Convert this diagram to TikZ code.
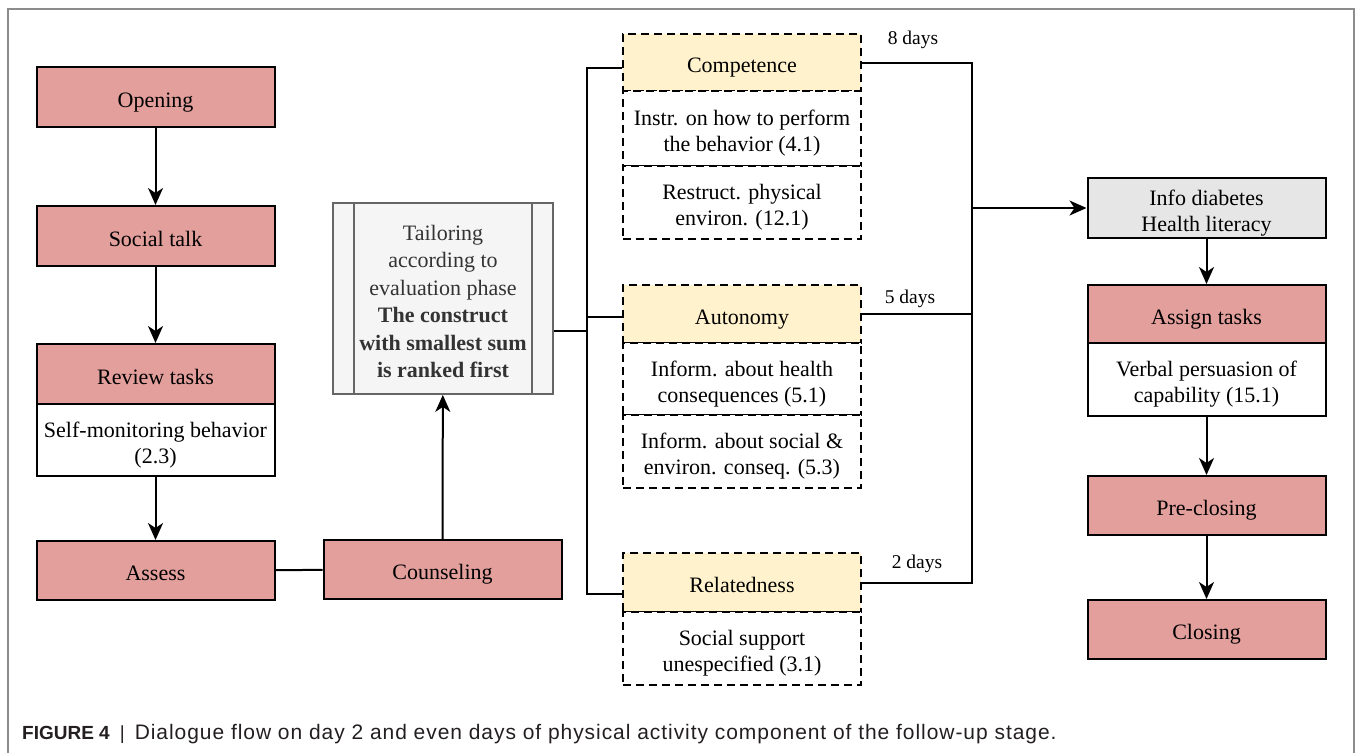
\documentclass[tikz,border=0pt]{standalone}
\usepackage{fontspec}
\setmainfont{Liberation Serif}
\newfontfamily\capfont{Liberation Sans}
\usetikzlibrary{arrows.meta}
\definecolor{stagepink}{HTML}{E39F9C}
\definecolor{constructyellow}{HTML}{FFF2CC}
\definecolor{infogray}{HTML}{E6E6E6}
\definecolor{tailorfill}{HTML}{F5F5F5}
\definecolor{tailorline}{HTML}{666666}
\definecolor{tailortext}{HTML}{333333}
\definecolor{framegray}{HTML}{8C8C8C}
\definecolor{captext}{HTML}{231F20}
% centred lines of box text, set slightly below the geometric middle
\newcommand{\tx}[1]{\raisebox{-5pt}[\height][\depth]{\begin{tabular}{@{}c@{}}#1\end{tabular}}}
\tikzset{
  every node/.style={font=\fontsize{22}{26}\selectfont, inner sep=0pt},
  stage/.style={draw=black, line width=2pt, fill=stagepink, minimum width=238pt},
  bct/.style={draw=black, line width=2pt, fill=white, minimum width=238pt},
  construct/.style={draw=black, line width=1.8pt, dash pattern=on 8pt off 5pt, fill=constructyellow, minimum width=238pt},
  dbct/.style={draw=black, line width=1.8pt, dash pattern=on 8pt off 5pt, fill=white, minimum width=238pt},
  infobox/.style={draw=black, line width=2pt, fill=infogray, minimum width=238pt},
  flow/.style={line width=2pt, -{Stealth[length=17pt,width=15pt,inset=5pt]}},
  link/.style={line width=2pt},
  daylabel/.style={anchor=base, font=\fontsize{19.5}{22}\selectfont},
}
\begin{document}
\begin{tikzpicture}[x=1pt, y=-1pt]
\useasboundingbox (0,0) rectangle (1359,753);
% open-bottomed frame
\draw[framegray, line width=1.8pt] (8,753) -- (8,9) -- (1354,9) -- (1354,753);

% left column
\node[stage, minimum height=60pt] (open) at (155.5,97) {\tx{Opening}};
\node[stage, minimum height=60pt] (social) at (155.5,236) {\tx{Social talk}};
\node[stage, minimum height=60pt] (review) at (155.5,374) {\tx{Review tasks}};
\node[bct, minimum height=72pt] (selfmon) at (155.5,440) {\tx{Self-monitoring behavior\\(2.3)}};
\node[stage, minimum height=59pt] (assess) at (155.5,570.5) {\tx{Assess}};
\node[stage, minimum height=59pt] (counsel) at (442.5,569.5) {\tx{Counseling}};

% tailoring process box
\node[draw=tailorline, line width=1.8pt, fill=tailorfill, minimum width=220pt, minimum height=191pt,
      text=tailortext, font=\fontsize{22}{27.4}\selectfont] (tailor) at (443,298.5)
  {\tx{Tailoring\\according to\\evaluation phase\\\textbf{The construct}\\\textbf{with smallest sum}\\\textbf{is ranked first}}};
\draw[tailorline, line width=1.8pt] ([xshift=22pt]tailor.north west) -- ([xshift=22pt]tailor.south west);
\draw[tailorline, line width=1.8pt] ([xshift=-22pt]tailor.north east) -- ([xshift=-22pt]tailor.south east);

% constructs
\node[construct, minimum height=57pt] (comp) at (742,62.5) {\tx{Competence}};
\node[dbct, minimum height=75pt] (instr) at (742,128.5) {\tx{Instr. on how to perform\\the behavior (4.1)}};
\node[dbct, minimum height=73pt] (restr) at (742,202.5) {\tx{Restruct. physical\\environ. (12.1)}};
\node[construct, minimum height=58pt] (auto) at (742,314) {\tx{Autonomy}};
\node[dbct, minimum height=72pt] (inf1) at (742,379) {\tx{Inform. about health\\consequences (5.1)}};
\node[dbct, minimum height=73pt] (inf2) at (742,451.5) {\tx{Inform. about social \&\\environ. conseq. (5.3)}};
\node[construct, minimum height=59pt] (rel) at (742,582.5) {\tx{Relatedness}};
\node[dbct, minimum height=73pt] (soc) at (742,648.5) {\tx{Social support\\unespecified (3.1)}};

% right column
\node[infobox, minimum height=60pt] (info) at (1206.5,208) {\tx{Info diabetes\\Health literacy}};
\node[stage, minimum height=58pt] (assign) at (1206.5,314) {\tx{Assign tasks}};
\node[bct, minimum height=73pt] (verbal) at (1206.5,379.5) {\tx{Verbal persuasion of\\capability (15.1)}};
\node[stage, minimum height=59pt] (pre) at (1206.5,505.5) {\tx{Pre-closing}};
\node[stage, minimum height=59pt] (close) at (1206.5,629.5) {\tx{Closing}};

% junctions
\coordinate (split) at (587,331);
\coordinate (merge) at (972,208);

% connectors
\draw[flow] (open) -- (social);
\draw[flow] (social) -- (review);
\draw[flow] (selfmon) -- (assess);
\draw[link] (assess) -- (counsel);
\draw[flow] (counsel) -- (tailor);
\draw[link] ([yshift=-32.5pt]tailor.east) -- (split);
\draw[link] (split) |- ([yshift=-5.5pt]comp.west);
\draw[link] (split) |- ([yshift=-3pt]auto.west);
\draw[link] (split) |- ([yshift=-11.5pt]rel.west);
\draw[link] (comp.east) -| (merge);
\draw[link] (auto.east) -| (merge);
\draw[link] (rel.east) -| (merge);
\draw[flow] (merge) -- (info.west);
\draw[flow] (info) -- (assign);
\draw[flow] (verbal) -- (pre);
\draw[flow] (pre) -- (close);

% day labels
\node[daylabel] (d8) at (913,44) {8 days};
\node[daylabel] (d5) at (910,303) {5 days};
\node[daylabel] (d2) at (917,568) {2 days};

% caption
\node[anchor=base west, text=captext, font=\capfont\fontsize{19}{22}\selectfont] (cap) at (22,739)
  {\textbf{FIGURE 4}\hspace{10pt}|\hspace{10pt}{\addfontfeature{LetterSpace=4.5}\fontsize{21}{24}\selectfont Dialogue flow on day 2 and even days of physical activity component of the follow-up stage.}};
\end{tikzpicture}
\end{document}
